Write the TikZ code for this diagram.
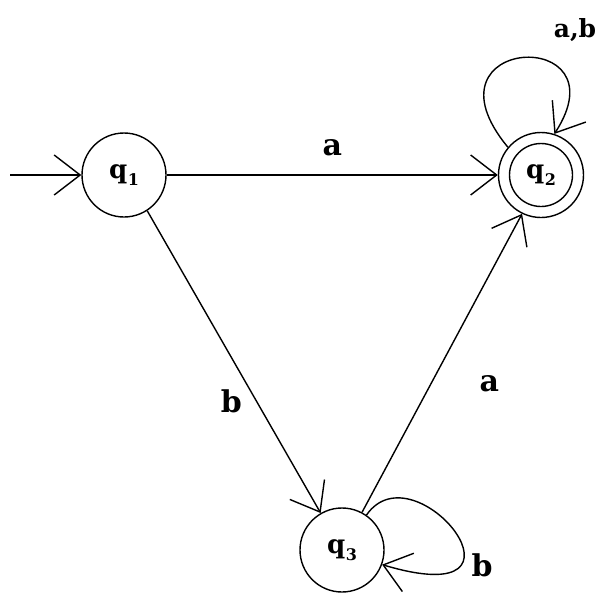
\documentclass[tikz,border=0pt]{standalone}
\usepackage{fontspec}
\setmainfont{DejaVu Serif}
\usetikzlibrary{arrows.meta}
\newcommand{\stq}[1]{q\kern0.5pt\raisebox{-7pt}{\fontsize{16}{16}\selectfont #1}}
\begin{document}
\begin{tikzpicture}[x=1pt,y=-1pt,
  state/.style={circle,draw,line width=1.4pt,minimum size=84pt,inner sep=0pt,font=\fontsize{26}{30}\selectfont\bfseries},
  arr/.style={line width=1.4pt,-{Straight Barb[length=26pt,width=40pt,line width=1.4pt]}},
  lab/.style={font=\fontsize{30}{34}\selectfont\bfseries,inner sep=0pt},
  smalllab/.style={font=\fontsize{25}{28}\selectfont\bfseries,inner sep=0pt}]
\useasboundingbox (0,0) rectangle (600,592);
\node[state] (q1) at (124,175) {\stq{1}};
\node[state,minimum size=85pt] (q2) at (541,175) {\stq{2}};
\draw[line width=1.4pt] (q2.center) circle (31.5);
\node[state] (q3) at (342,550) {\stq{3}};
\coordinate (s) at (10,175);
\draw[arr] (s) -- (q1);
\draw[arr] (q1) -- node[lab,above=18pt] {a} (q2);
\draw[arr] (q1.-57) -- node[lab,pos=0.63,left=14pt] {b} (q3.120);
\draw[arr] (q3.62) -- node[lab,pos=0.43,right=48pt] {a} (q2.-116);
\draw[arr] (q2.140) .. controls (415,35) and (625,25) .. (q2.72);
\draw[arr] (q3.55) .. controls (415,445) and (550,615) .. (q3.-20);
\node[smalllab] (l1) at (575,30) {a,b};
\node[lab] (l2) at (482,565) {b};
\end{tikzpicture}
\end{document}
